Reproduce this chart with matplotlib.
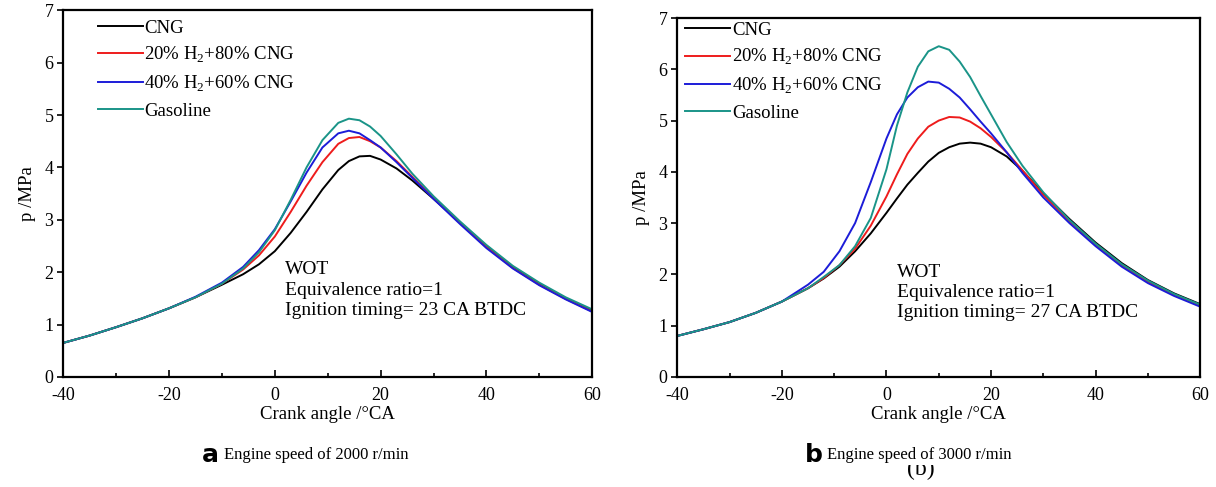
import matplotlib.pyplot as plt
from matplotlib.patches import Rectangle

plt.rcParams['font.family'] = ['Liberation Serif', 'DejaVu Serif']
plt.rcParams['mathtext.fontset'] = 'custom'
plt.rcParams['mathtext.rm'] = 'Liberation Serif'
plt.rcParams['axes.unicode_minus'] = False

# cylinder pressure, 2000 r/min
ca_a = [-40, -35, -30, -25, -20, -15, -10, -6, -3, 0, 3, 6, 9, 12, 14, 16, 18, 20,
        23, 26, 30, 35, 40, 45, 50, 55, 60]
cng_a = [0.65, 0.79, 0.95, 1.12, 1.31, 1.52, 1.76, 1.96, 2.15, 2.40, 2.75, 3.15, 3.58,
         3.95, 4.12, 4.21, 4.22, 4.15, 3.98, 3.75, 3.40, 2.95, 2.50, 2.10, 1.78, 1.50, 1.26]
h20_a = [0.65, 0.79, 0.95, 1.12, 1.31, 1.52, 1.78, 2.05, 2.32, 2.68, 3.15, 3.65, 4.10,
         4.45, 4.56, 4.58, 4.50, 4.38, 4.12, 3.82, 3.42, 2.94, 2.48, 2.08, 1.76, 1.49, 1.25]
h40_a = [0.65, 0.79, 0.95, 1.12, 1.31, 1.53, 1.80, 2.10, 2.42, 2.82, 3.35, 3.90, 4.38,
         4.65, 4.70, 4.65, 4.52, 4.38, 4.10, 3.80, 3.40, 2.92, 2.46, 2.07, 1.75, 1.48, 1.24]
gas_a = [0.65, 0.79, 0.95, 1.12, 1.31, 1.52, 1.78, 2.07, 2.38, 2.80, 3.38, 4.00, 4.52,
         4.85, 4.93, 4.90, 4.78, 4.60, 4.25, 3.88, 3.45, 2.97, 2.52, 2.12, 1.80, 1.52, 1.29]

# cylinder pressure, 3000 r/min
ca_b = [-40, -35, -30, -25, -20, -15, -12, -9, -6, -3, 0, 2, 4, 6, 8, 10, 12, 14, 16,
        18, 20, 23, 26, 30, 35, 40, 45, 50, 55, 60]
cng_b = [0.80, 0.93, 1.07, 1.25, 1.47, 1.73, 1.92, 2.15, 2.45, 2.80, 3.20, 3.48, 3.75,
         3.98, 4.20, 4.37, 4.48, 4.55, 4.57, 4.55, 4.48, 4.30, 4.02, 3.58, 3.08, 2.62,
         2.22, 1.89, 1.63, 1.42]
h20_b = [0.80, 0.93, 1.07, 1.25, 1.47, 1.73, 1.93, 2.18, 2.50, 2.95, 3.52, 3.95, 4.35,
         4.65, 4.88, 5.00, 5.07, 5.06, 4.98, 4.85, 4.68, 4.38, 4.03, 3.55, 3.04, 2.58,
         2.18, 1.86, 1.60, 1.40]
h40_b = [0.80, 0.93, 1.07, 1.25, 1.47, 1.80, 2.05, 2.45, 3.00, 3.80, 4.65, 5.12, 5.45,
         5.65, 5.76, 5.74, 5.62, 5.45, 5.22, 4.98, 4.75, 4.38, 3.98, 3.50, 3.00, 2.55,
         2.15, 1.83, 1.58, 1.37]
gas_b = [0.80, 0.93, 1.07, 1.25, 1.47, 1.73, 1.95, 2.18, 2.55, 3.10, 4.05, 4.90, 5.55,
         6.05, 6.35, 6.45, 6.38, 6.15, 5.85, 5.48, 5.12, 4.58, 4.12, 3.60, 3.06, 2.60,
         2.20, 1.88, 1.62, 1.41]

labels = ['CNG', r'20% H$_2$+80% CNG', r'40% H$_2$+60% CNG', 'Gasoline']
colors = ['black', '#ee1c1c', '#1c1cd8', '#1a9488']
ignition = ['23', '27']
speeds = ['2000', '3000']
letters = ['a', 'b']

fig = plt.figure(figsize=(12.16, 4.87), dpi=100)
ax1 = fig.add_axes([0.052, 0.226, 0.435, 0.753])
ax2 = fig.add_axes([0.557, 0.226, 0.430, 0.737])

panels = [(ax1, ca_a, [cng_a, h20_a, h40_a, gas_a], (0.065, 0.975)),
          (ax2, ca_b, [cng_b, h20_b, h40_b, gas_b], (0.015, 0.99))]

for i, (ax, ca, series, leg_pos) in enumerate(panels):
    for y, lab, c in zip(series, labels, colors):
        ax.plot(ca, y, color=c, lw=1.4, label=lab)
    ax.set_xlim(-40, 60)
    ax.set_ylim(0, 7)
    ax.set_xticks(range(-40, 61, 20))
    ax.set_xticks(range(-30, 60, 20), minor=True)
    ax.set_yticks(range(0, 8))
    ax.tick_params(axis='x', direction='in', length=5, width=1.2, labelsize=13, pad=7)
    ax.tick_params(axis='x', which='minor', direction='in', length=3, width=1.2)
    ax.tick_params(axis='y', direction='out', length=4, width=1.2, labelsize=13, pad=3)
    for sp in ax.spines.values():
        sp.set_linewidth(1.6)
    ax.set_xlabel('Crank angle /°CA', fontsize=13.5, labelpad=2)
    ax.set_ylabel('p /MPa', fontsize=13.5, labelpad=6)
    ax.legend(loc='upper left', bbox_to_anchor=leg_pos, frameon=False, fontsize=13.5,
              handlelength=2.4, handletextpad=0.1, labelspacing=0.45,
              borderaxespad=0.0, borderpad=0.0)
    ax.text(0.42, 0.315, 'WOT\nEquivalence ratio=1\nIgnition timing= %s CA BTDC' % ignition[i],
            transform=ax.transAxes, fontsize=14, va='top', ha='left', linespacing=1.25)

# panel captions
for xl, xt, i in [(0.166, 0.184, 0), (0.662, 0.680, 1)]:
    fig.text(xl, 0.065, letters[i], family='DejaVu Sans', fontweight='bold',
             fontsize=18, ha='left', va='center', zorder=6)
    fig.text(xt, 0.065, 'Engine speed of %s r/min' % speeds[i], fontsize=12,
             ha='left', va='center', zorder=6)

# leftover sub-label, its upper part hidden behind the caption strip
fig.text(0.757, 0.014, '(b)', fontsize=17, ha='center', va='bottom', zorder=3)
fig.patches.append(Rectangle((0.70, 0.046), 0.12, 0.06, transform=fig.transFigure,
                             facecolor='white', edgecolor='none', zorder=5))

fig.savefig('out.png', dpi=100)
